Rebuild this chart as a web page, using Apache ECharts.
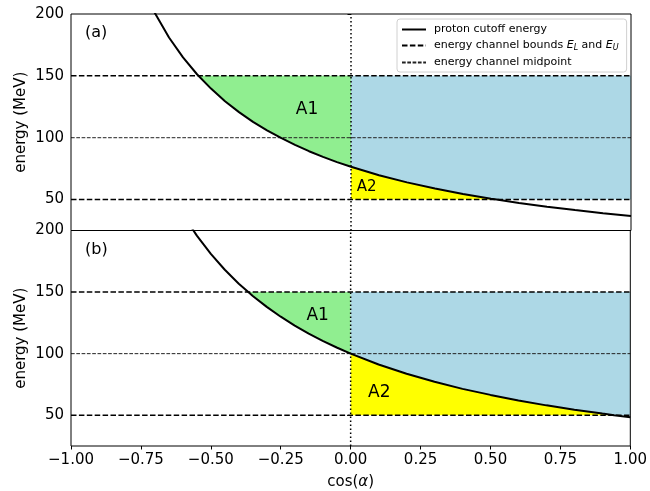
<!DOCTYPE html>
<html><head><meta charset="utf-8">
<script src="https://cdn.jsdelivr.net/npm/echarts@6/dist/echarts.min.js"></script>
<style>html,body{margin:0;padding:0;background:#fff}#c{width:650px;height:491px}</style>
</head><body><div id="c"></div>
<script>
// ---- data ----
const cosA = [-0.75,-0.70,-0.65,-0.60,-0.55,-0.544,-0.50,-0.45,-0.40,-0.35,-0.30,-0.25,-0.20,-0.15,-0.10,-0.05,0.00,0.10,0.20,0.30,0.40,0.50,0.52,0.60,0.70,0.80,0.90,1.00];
const energyA = [224.7,200.6,181.0,164.9,151.3,150.0,139.7,129.5,120.7,112.8,106.0,99.8,94.2,89.1,84.5,80.3,76.5,69.7,63.9,58.9,54.5,50.7,50.0,47.2,44.2,41.5,39.0,36.8];
const cosB = [-0.75,-0.70,-0.65,-0.60,-0.55,-0.50,-0.45,-0.40,-0.366,-0.35,-0.30,-0.25,-0.20,-0.15,-0.10,-0.05,0.00,0.10,0.20,0.30,0.40,0.50,0.60,0.70,0.80,0.90,0.942,1.00];
const energyB = [288.6,258.2,233.5,213.1,195.8,181.0,168.1,156.8,150.0,146.8,138.0,130.0,122.8,116.3,110.4,105.0,100.0,91.2,83.7,77.2,71.4,66.5,62.0,58.0,54.5,51.3,50.0,48.4];
const channelLower = 50;
const channelUpper = 150;
const channelMid = 100;
const xRange = [-1, 1];
const yRange = [25, 200];
const yTicks = [50, 100, 150, 200];
const panelNames = ['(a)', '(b)'];
const regionNames = ['A1', 'A2'];
const seriesNames = ['proton cutoff energy', 'energy channel bounds E_L and E_U', 'energy channel midpoint'];

// ---- layout / styling ----
const FONT = 'DejaVu Sans';
const grids = [
  {left: 71, right: 19, top: 14, height: 216.5},
  {left: 71, right: 19, top: 230.5, height: 216.5}
];
const annot = [
  [{x: -0.95, y: 184.6, s: 16, al: 'left'}, {x: -0.157, y: 122.4, s: 17}, {x: 0.056, y: 59.9, s: 15}],
  [{x: -0.95, y: 184.2, s: 16, al: 'left'}, {x: -0.118, y: 130.9, s: 17}, {x: 0.1025, y: 68.4, s: 17}]
];
const panels = [{xs: cosA, es: energyA}, {xs: cosB, es: energyB}];

function regions(xs, es) {
  const p = xs.map((x, i) => [x, es[i]]);
  const left = p.filter(q => q[0] <= 0 && q[1] <= channelUpper);
  const right = p.filter(q => q[0] >= 0);
  const green = [[left[0][0], channelUpper], [0, channelUpper]].concat(left.slice().reverse());
  const blue = [[0, channelUpper], [xRange[1], channelUpper]].concat(right.slice().reverse().map(q => [q[0], Math.max(q[1], channelLower)]));
  const yellow = right.map(q => [q[0], Math.max(q[1], channelLower)]).concat([[xRange[1], channelLower], [0, channelLower]]);
  return [{pts: green, color: '#90ee90'}, {pts: blue, color: '#add8e6'}, {pts: yellow, color: '#ffff00'}];
}

const series = [];
const xAxes = [], yAxes = [];
panels.forEach((pn, g) => {
  const polys = regions(pn.xs, pn.es);
  series.push({
    type: 'custom', xAxisIndex: g, yAxisIndex: g, z: 1, silent: true,
    data: polys.map(() => [0, 100]),
    renderItem: (params, api) => {
      const p = polys[params.dataIndex];
      return {type: 'polygon', shape: {points: p.pts.map(q => api.coord(q))}, style: {fill: p.color}};
    }
  });
  const texts = [panelNames[g]].concat(regionNames);
  series.push({
    type: 'custom', xAxisIndex: g, yAxisIndex: g, z: 6, silent: true,
    data: texts.map(() => [0, 100]),
    renderItem: (params, api) => {
      const a = annot[g][params.dataIndex];
      const c = api.coord([a.x, a.y]);
      return {type: 'text', style: {text: texts[params.dataIndex], x: c[0], y: c[1], fontSize: a.s, fontFamily: FONT, fill: '#000', align: a.al || 'center', verticalAlign: 'middle'}};
    }
  });
  [channelUpper, channelLower].forEach(v => series.push({
    name: seriesNames[1], type: 'line', xAxisIndex: g, yAxisIndex: g, z: 3, symbol: 'none', silent: true,
    data: [[xRange[0], v], [xRange[1], v]], itemStyle: {color: '#000'},
    lineStyle: {color: '#000', width: 1.5, type: [5.5, 2.4]}
  }));
  series.push({
    name: seriesNames[2], type: 'line', xAxisIndex: g, yAxisIndex: g, z: 3, symbol: 'none', silent: true,
    data: [[xRange[0], channelMid], [xRange[1], channelMid]], itemStyle: {color: '#000'},
    lineStyle: {color: '#222', width: 1, type: [3.7, 1.6]}
  });
  series.push({
    name: 'zero', type: 'line', xAxisIndex: g, yAxisIndex: g, z: 3, symbol: 'none', silent: true,
    data: [[0, yRange[0]], [0, yRange[1]]], itemStyle: {color: '#000'},
    lineStyle: {color: '#000', width: 1.5, type: [1.5, 2.5]}
  });
  series.push({
    name: seriesNames[0], type: 'line', xAxisIndex: g, yAxisIndex: g, z: 4, symbol: 'none', silent: true,
    data: pn.xs.map((x, i) => [x, pn.es[i]]), clip: true, itemStyle: {color: '#000'},
    lineStyle: {color: '#000', width: 2}
  });
  xAxes.push({
    gridIndex: g, type: 'value', min: xRange[0], max: xRange[1], interval: 0.25,
    axisLine: {show: false}, splitLine: {show: false},
    axisTick: {show: g === 1, length: 3.5, lineStyle: {color: '#000', width: 1}},
    axisLabel: {show: g === 1, margin: 7, fontFamily: FONT, fontSize: 15, color: '#000',
      formatter: v => v.toFixed(2).replace('-', '\u2212')},
    name: g === 1 ? '{n|cos(}{i|α}{n|)}' : '', nameLocation: 'middle', nameGap: 29,
    nameTextStyle: {rich: {n: {fontFamily: FONT, fontSize: 15, color: '#000'}, i: {fontFamily: FONT, fontSize: 15, fontStyle: 'italic', color: '#000'}}}
  });
  yAxes.push({
    gridIndex: g, type: 'value', min: yRange[0], max: yRange[1],
    axisLine: {show: false}, splitLine: {show: false},
    axisTick: {show: true, customValues: yTicks, length: 3.5, lineStyle: {color: '#000', width: 1}},
    axisLabel: {customValues: yTicks, margin: 7, fontFamily: FONT, fontSize: 15, color: '#000'},
    name: 'energy (MeV)', nameLocation: 'middle', nameGap: 42, nameMoveOverlap: false,
    nameTextStyle: {fontFamily: FONT, fontSize: 15, color: '#000'}
  });
});

const chart = echarts.init(document.getElementById('c'), null, {renderer: 'canvas'});
chart.setOption({
  animation: false,
  backgroundColor: '#fff',
  grid: grids.map(g => Object.assign({show: true, borderColor: '#000', borderWidth: 1, z: 5, backgroundColor: 'transparent'}, g)),
  xAxis: xAxes,
  yAxis: yAxes,
  legend: {
    data: seriesNames, orient: 'vertical', left: 397, top: 19,
    padding: [5, 8, 4, 4], itemGap: 5, itemWidth: 24, itemHeight: 12,
    borderColor: '#d0d0d0', borderWidth: 1, borderRadius: 3, backgroundColor: 'rgba(255,255,255,0.85)',
    selectedMode: false, z: 10,
    itemStyle: {opacity: 0},
    formatter: name => name === seriesNames[1]
      ? '{n|energy channel bounds }{i|E}{s|L}{n| and }{i|E}{s|U}'
      : '{n|' + name + '}',
    textStyle: {
      padding: [0, 0, 0, 3],
      rich: {
        n: {fontFamily: FONT, fontSize: 11, color: '#000'},
        i: {fontFamily: FONT, fontSize: 11, fontStyle: 'italic', color: '#000'},
        s: {fontFamily: FONT, fontSize: 8, fontStyle: 'italic', color: '#000', verticalAlign: 'bottom', padding: [5, 0, 0, 0]}
      }
    }
  },
  series: series
});
</script></body></html>
